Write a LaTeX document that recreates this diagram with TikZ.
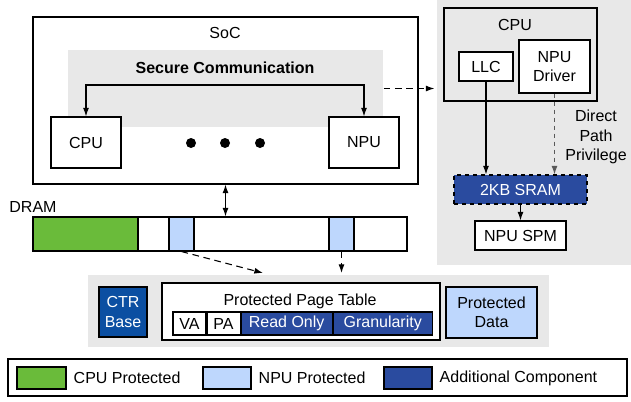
\documentclass[tikz,border=0pt]{standalone}
\usepackage{fontspec}
\setmainfont{Liberation Sans}
\usetikzlibrary{positioning,arrows.meta}
\definecolor{panelgray}{HTML}{E8E8E8}
\definecolor{cpugreen}{HTML}{6ABB3A}
\definecolor{npublue}{HTML}{BED7FD}
\definecolor{addblue}{HTML}{2A4B9F}
\definecolor{ctrblue}{HTML}{0B4FA2}
\begin{document}
\begin{tikzpicture}[x=0.75pt,y=-0.75pt,>={Latex[length=6.5pt,width=4.5pt]},line width=0.8pt,font=\fontsize{12}{14.5}\selectfont,
		wh/.style 2 args={minimum width=#1*0.75pt,minimum height=#2*0.75pt,inner sep=0pt},
		box/.style={draw,fill=white,align=center},
		area/.style={fill=panelgray,inner sep=0pt},
		extra/.style={draw,fill=addblue,text=white,align=center},
		dashline/.style={dash pattern=on 5pt off 3.5pt}]
	\useasboundingbox (0,0) rectangle (631,401);
	\node[area,wh={194}{265}] (host) at (534,132.5) {};
	\node[area,wh={461}{72}] (meta) at (318.5,311) {};
	\node[draw,wh={385}{167}] (soc) at (225.5,100.5) {};
	\node (soclbl) at (225,33) {SoC};
	\node[area,wh={315}{77}] (scomm) at (225.5,88.5) {};
	\node[font=\fontsize{12}{14.5}\selectfont\bfseries] (sctitle) at (225,68) {Secure Communication};
	\node[box,wh={70}{51}] (cpu) at (86,142.5) {CPU};
	\node[box,wh={70}{51}] (npu) at (364,142.5) {NPU};
	\coordinate (scline) at (225,85);
	\draw[<->] (cpu.north) |- (scline) -| (npu.north);
	\foreach \dx in {191,225,260} \fill (\dx,143) circle (3.75pt);
	\draw[->,dashline,shorten >=1.5pt] (scomm.east) -- (scomm.east -| host.west);
	\node[draw,wh={153}{93}] (hcpu) at (520.5,54.5) {};
	\node (hcpulbl) at (515,25) {CPU};
	\node[box,wh={54}{29}] (llc) at (486,66.5) {LLC};
	\node[box,wh={71}{53}] (drv) at (554.5,66.5) {NPU\\Driver};
	\node[extra,dashed,wh={133}{29}] (sram) at (520.5,189.5) {2KB SRAM};
	\node[box,wh={91}{29}] (spm) at (520.5,235.5) {NPU SPM};
	\node[align=center] (dpp) at (596,137) {Direct\\Path\\Privilege};
	\draw[->] (llc) -- (llc |- sram.north);
	\draw[->,dashed,gray!70!black] (drv) -- (drv |- sram.north);
	\draw[->] (sram) -- (spm);
	\node (dramlbl) at (33,207) {DRAM};
	\node[draw,fill=white,wh={374}{34}] (dram) at (220,234) {};
	\node[draw,fill=cpugreen,wh={105}{34}] (cpua) at (85.5,234) {};
	\node[draw,fill=npublue,wh={25}{34}] (npua) at (181.5,234) {};
	\node[draw,fill=npublue,wh={25}{34}] (npub) at (341.5,234) {};
	\draw[<->] (soc.south) -- (soc.south |- dram.north);
	\coordinate (ppttop) at (263,273);
	\draw[->,dashline] (npua.south) -- (ppttop);
	\draw[->,dashline] (npub.south) -- (npub.south |- ppttop);
	\node[draw,fill=ctrblue,text=white,align=center,wh={48}{50}] (ctr) at (123,312) {CTR\\Base};
	\node[box,wh={278}{57}] (ppt) at (301,311.5) {};
	\node (pptlbl) at (300,301) {Protected Page Table};
	\node[box,wh={33}{23}] (va) at (189.5,323.5) {VA};
	\node[box,wh={33}{23},right=0pt of va] (pa) {PA};
	\node[extra,wh={91}{23},right=0pt of pa] (ro) {Read Only};
	\node[extra,wh={99}{23},right=0pt of ro] (gran) {Granularity};
	\node[box,fill=npublue,wh={91}{51}] (pdata) at (491.5,312.5) {Protected\\Data};
	\node[draw,wh={619}{37}] (legend) at (317.5,377.5) {};
	\node[draw,fill=cpugreen,wh={49}{22}] (swcpu) at (41.5,378) {};
	\node[right=5pt of swcpu,inner sep=0pt] (lblcpu) {CPU Protected};
	\node[draw,fill=npublue,wh={48}{22}] (swnpu) at (227,378) {};
	\node[right=5pt of swnpu,inner sep=0pt] (lblnpu) {NPU Protected};
	\node[draw,fill=addblue,wh={48}{22}] (swadd) at (408,378) {};
	\node[right=5pt of swadd,inner sep=0pt] (lbladd) {Additional Component};
\end{tikzpicture}
\end{document}
